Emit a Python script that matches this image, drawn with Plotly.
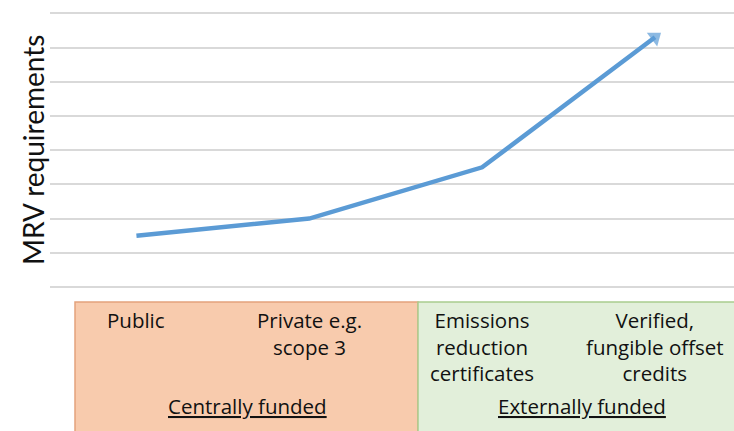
import plotly.graph_objects as go

# Data
categories = ["Public", "Private e.g.<br>scope 3", "Emissions<br>reduction<br>certificates", "Verified,<br>fungible offset<br>credits"]
x_pos = [0, 1, 2, 3]
mrv_values = [1.5, 2.0, 3.5, 7.3]
group_labels = ["Centrally funded", "Externally funded"]
group_centers = [0.64, 2.58]
y_title = "MRV requirements"

line_color = "#5B9BD5"
font_family = "'Open Sans', Lato, sans-serif"

fig = go.Figure()
fig.add_trace(go.Scatter(
    x=x_pos, y=mrv_values, mode="lines+markers",
    line=dict(color=line_color, width=4.5),
    marker=dict(symbol=["circle", "circle", "circle", "triangle-up"],
                size=[0, 0, 0, 15], angleref="previous",
                color=line_color, line=dict(width=0)),
    showlegend=False, hoverinfo="skip",
))

# plot area: px x 50..734, y 5..295
W, H = 734, 431
ml, mr, mt, mb = 50, 0, 5, 136
pw, ph = W - ml - mr, H - mt - mb

def px_x(p):
    return (p - ml) / pw

def px_y(p):
    return (H - mb - p) / ph

# group boxes
fig.add_shape(type="rect", xref="paper", yref="paper",
              x0=px_x(75), x1=px_x(418), y0=px_y(440), y1=px_y(302),
              fillcolor="#F8CBAD", line=dict(color="#E4A27C", width=1.5), layer="below")
fig.add_shape(type="rect", xref="paper", yref="paper",
              x0=px_x(418), x1=px_x(760), y0=px_y(440), y1=px_y(302),
              fillcolor="#E2EFDA", line=dict(color="#A9CD8F", width=1.5), layer="below")

for xv, lab in zip(x_pos, categories):
    fig.add_annotation(x=xv, y=px_y(304), xref="x", yref="paper",
                       text=lab, showarrow=False, xanchor="center", yanchor="top",
                       font=dict(family=font_family, size=20.5, color="#111111"))

for xc, lab in zip(group_centers, group_labels):
    fig.add_annotation(x=xc, y=px_y(406), xref="x", yref="paper",
                       text="<u>" + lab + "</u>", showarrow=False,
                       xanchor="center", yanchor="middle",
                       font=dict(family=font_family, size=20.5, color="#111111"))

fig.update_layout(
    width=W, height=H,
    margin=dict(l=ml, r=mr, t=mt, b=mb),
    paper_bgcolor="white", plot_bgcolor="white",
    xaxis=dict(range=[-0.5, 3.457], showgrid=False, zeroline=False,
               showticklabels=False, showline=False, fixedrange=True),
    yaxis=dict(range=[-0.234, 8.245], dtick=1, showgrid=True,
               gridcolor="#D9D9D9", gridwidth=1.5, zeroline=False,
               showticklabels=False, showline=False, fixedrange=True),
)

fig.add_annotation(x=px_x(33), y=px_y(150), xref="paper", yref="paper",
                   text=y_title, textangle=-90, showarrow=False,
                   xanchor="center", yanchor="middle",
                   font=dict(family="Lato, sans-serif", size=28, color="#111111"))

fig.write_html("out.html")
